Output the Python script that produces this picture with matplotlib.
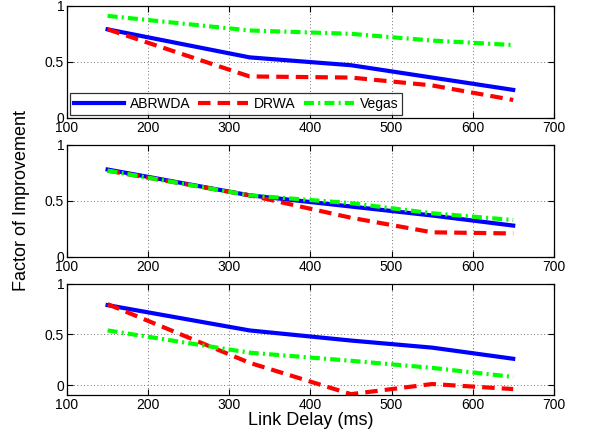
import numpy as np
import matplotlib
matplotlib.use("Agg")
import matplotlib.pyplot as plt

plt.rcParams['font.family'] = ['Liberation Sans', 'DejaVu Sans']

delay = [150, 325, 450, 550, 650]

# panel 1
abrwda_1 = [0.79, 0.54, 0.47, 0.36, 0.25]
drwa_1 = [0.79, 0.37, 0.36, 0.29, 0.16]
vegas_1 = [0.91, 0.78, 0.75, 0.69, 0.65]

# panel 2
abrwda_2 = [0.78, 0.55, 0.45, 0.37, 0.28]
drwa_2 = [0.77, 0.55, 0.35, 0.22, 0.21]
vegas_2 = [0.77, 0.55, 0.48, 0.39, 0.33]

# panel 3
abrwda_3 = [0.79, 0.54, 0.44, 0.37, 0.26]
drwa_3 = [0.80, 0.22, -0.09, 0.01, -0.04]
vegas_3 = [0.54, 0.32, 0.24, 0.17, 0.08]

panels = [(abrwda_1, drwa_1, vegas_1, (0, 1)),
          (abrwda_2, drwa_2, vegas_2, (0, 1)),
          (abrwda_3, drwa_3, vegas_3, (-0.1, 1))]

fig = plt.figure(figsize=(5.9, 4.45), dpi=100)
boxes = [[0.1136, 0.735, 0.825, 0.252],
         [0.1136, 0.4225, 0.825, 0.252],
         [0.1136, 0.112, 0.825, 0.25]]

axes = []
for box, (a, d, v, yl) in zip(boxes, panels):
    ax = fig.add_axes(box)
    ax.plot(delay, a, color='#0000ff', lw=3, ls='-', label='ABRWDA')
    ax.plot(delay, d, color='#ff0000', lw=3, ls=(0, (3.0, 1.7)), label='DRWA')
    ax.plot(delay, v, color='#00ff00', lw=3, ls=(0, (2.4, 1.0, 0.5, 1.0)), label='Vegas')
    ax.set_xlim(100, 700)
    ax.set_ylim(*yl)
    ax.set_xticks(range(100, 701, 100))
    ax.set_yticks([0, 0.5, 1])
    ax.set_yticklabels(['0', '0.5', '1'])
    ax.grid(True, ls=(0, (1, 3)), color='#444444', lw=0.6)
    ax.tick_params(direction='in', top=True, right=True, labelsize=10, length=4, pad=2)
    for s in ax.spines.values():
        s.set_linewidth(0.9)
    axes.append(ax)

leg = axes[0].legend(loc='lower left', ncol=3, fontsize=10, frameon=True, fancybox=False,
                     edgecolor='black', handlelength=3.6, columnspacing=0.6,
                     handletextpad=0.4, borderaxespad=0.2, borderpad=0.3)
leg.get_frame().set_linewidth(0.9)

fig.text(0.037, 0.55, 'Factor of Improvement', rotation=90, ha='center', va='center', fontsize=13)
axes[2].set_xlabel('Link Delay (ms)', fontsize=13, labelpad=0)

fig.savefig('out.png', dpi=100)
